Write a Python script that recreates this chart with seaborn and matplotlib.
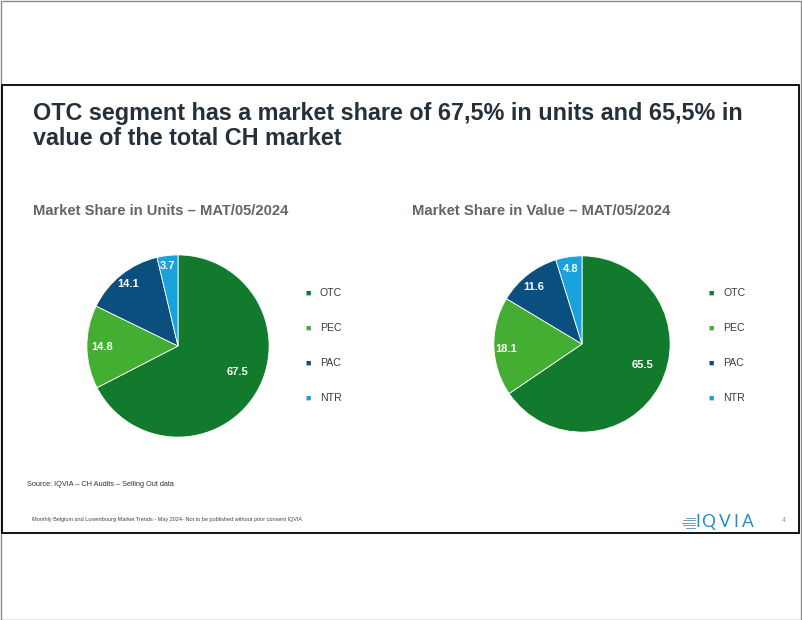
import matplotlib
matplotlib.use("Agg")
import matplotlib.pyplot as plt
import seaborn as sns
import numpy as np
from matplotlib.patches import Rectangle
from matplotlib.lines import Line2D

# -------------------------------------------------
# data
segments = ["OTC", "PEC", "PAC", "NTR"]
units_share = [67.5, 14.8, 14.1, 3.7]
value_share = [65.5, 18.1, 11.6, 4.8]

title = "OTC segment has a market share of 67,5% in units and 65,5% in\nvalue of the total CH market"
units_title = "Market Share in Units \u2013 MAT/05/2024"
value_title = "Market Share in Value \u2013 MAT/05/2024"
source_txt = "Source: IQVIA \u2013 CH Audits \u2013 Selling Out data"
footer_txt = "Monthly Belgium and Luxembourg Market Trends - May 2024- Not to be published without prior consent IQVIA"

sns.set_theme(style="white")
plt.rcParams["font.family"] = ["Liberation Sans", "DejaVu Sans"]

colors = sns.color_palette(["#127a2c", "#44ae32", "#0b4f7e", "#19a2dc"])
W, H = 802, 620


def px_axes(fig, x0, y0, x1, y1):
    # pixel box (top-left origin) -> figure axes
    return fig.add_axes([x0 / W, 1 - y1 / H, (x1 - x0) / W, (y1 - y0) / H])


def draw_pie(fig, box, values, label_r, label_shift):
    ax = px_axes(fig, *box)
    wedges, _ = ax.pie(values, colors=colors, startangle=90, counterclock=False,
                       wedgeprops=dict(linewidth=0.6, edgecolor="white"))
    for w, v, r, sh in zip(wedges, values, label_r, label_shift):
        ang = np.deg2rad((w.theta1 + w.theta2) / 2 + sh)
        ax.text(r * np.cos(ang), r * np.sin(ang), f"{v:.1f}", ha="center", va="center",
                color="white", fontsize=8, fontweight="bold")
    ax.set_xlim(-1.01, 1.01)
    ax.set_ylim(-1.01, 1.01)
    ax.set_aspect("equal")
    ax.axis("off")
    return ax


def draw_legend(fig, x_mark, y_rows):
    for seg, c, y in zip(segments, colors, y_rows):
        fig.text(x_mark / W, 1 - y / H, "\u25a0", color=c, fontsize=6.5, ha="center", va="center")
        fig.text((x_mark + 12) / W, 1 - y / H, seg, color="#3a3a3a", fontsize=7.6, ha="left", va="center")


fig = plt.figure(figsize=(W / 100, H / 100), dpi=100)
fig.patch.set_facecolor("white")

# page borders
fig.add_artist(Rectangle((0.5 / W, 0.5 / H), (W - 1.5) / W, (H - 1.5) / H, transform=fig.transFigure,
                         fill=False, edgecolor="#8a8a8a", linewidth=1))
fig.add_artist(Rectangle((1.5 / W, 1 - 533 / H), 797 / W, 448 / H, transform=fig.transFigure,
                         fill=False, edgecolor="black", linewidth=1.3))

fig.text(33 / W, 1 - 126 / H, title, fontsize=16.8, fontweight="bold", color="#25303a",
         ha="left", va="center", linespacing=1.08)
fig.text(33 / W, 1 - 211 / H, units_title, fontsize=10.65, fontweight="bold", color="#5e656b",
         ha="left", va="center")
fig.text(412 / W, 1 - 211 / H, value_title, fontsize=10.7, fontweight="bold", color="#5e656b",
         ha="left", va="center")

draw_pie(fig, (86, 254, 270, 438), units_share, [0.71, 0.83, 0.87, 0.89], [8, 0, 0, 1])
draw_pie(fig, (493, 255, 671, 433), value_share, [0.72, 0.86, 0.85, 0.86], [9, 2, 2, 0])

rows = [293, 328, 363, 398]
draw_legend(fig, 308, rows)
draw_legend(fig, 711, rows)

fig.text(27 / W, 1 - 484 / H, source_txt, fontsize=5.35, color="#333333", ha="left", va="center")
fig.text(32 / W, 1 - 520 / H, footer_txt, fontsize=3.95, color="#444444", ha="left", va="center")
fig.text(784 / W, 1 - 521 / H, "4", fontsize=5, color="#9a9a9a", ha="center", va="center")

# IQVIA logo: stacked lines + spaced letters
for y, x0 in zip([517.5, 520, 522.5, 525, 527.5], [686, 683, 682, 683, 686]):
    fig.add_artist(Line2D([x0 / W, 695 / W], [1 - y / H, 1 - y / H], transform=fig.transFigure,
                          color="#4a8fbf", linewidth=0.6))
for ch, x in zip("IQVIA", [698, 708.5, 724.5, 736, 748]):
    fig.text(x / W, 1 - 522 / H, ch, fontsize=12.5, color="#1d8fcf", ha="center", va="center",
             family=["Lato", "DejaVu Sans"])

fig.savefig("out.png", dpi=100, facecolor="white")
print("ok")
